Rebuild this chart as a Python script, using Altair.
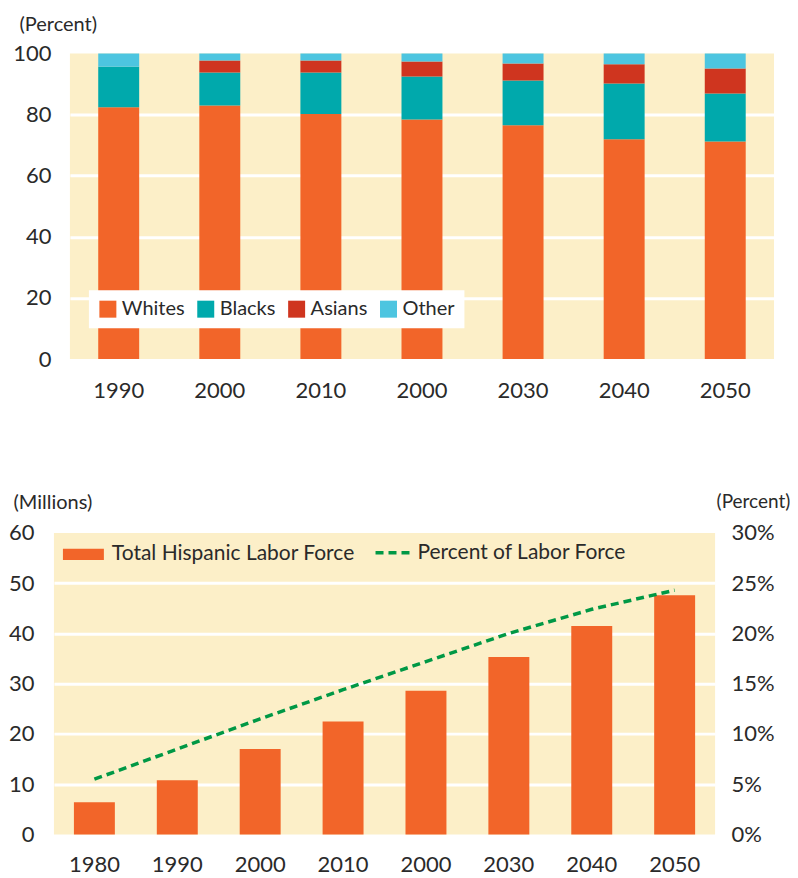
import altair as alt
import pandas as pd

# ---------------- data ----------------
top_years = ["1990", "2000", "2010", "2000", "2030", "2040", "2050"]
groups = ["Whites", "Blacks", "Asians", "Other"]
whites = [82.4, 83.0, 80.2, 78.4, 76.5, 71.9, 71.2]
blacks = [13.3, 10.8, 13.6, 14.1, 14.7, 18.3, 15.7]
asians = [0.0, 3.9, 3.9, 4.9, 5.5, 6.3, 8.2]
other = [4.3, 2.3, 2.3, 2.6, 3.3, 3.5, 4.9]

bot_years = ["1980", "1990", "2000", "2010", "2000", "2030", "2040", "2050"]
hispanic_millions = [6.4, 10.8, 17.0, 22.5, 28.6, 35.3, 41.5, 47.6]
hispanic_percent = [5.5, 8.5, 11.5, 14.4, 17.2, 20.0, 22.4, 24.3]

bar_series = "Total Hispanic Labor Force"
line_series = "Percent of Labor Force"

# ---------------- style ----------------
FONT = "Lato"
TEXT = "#2a2a2a"
BG = "#FCEFC8"
ORANGE = "#F26529"
TEAL = "#00A9AC"
RED = "#CF351F"
SKY = "#4DC5E0"
GREEN = "#009845"

rows = []
for i in range(len(top_years)):
    for k, (g, vals) in enumerate(zip(groups, [whites, blacks, asians, other])):
        rows.append({"idx": i, "group": g, "order": k, "value": vals[i]})
top_df = pd.DataFrame(rows)

bot_df = pd.DataFrame({
    "idx": list(range(len(bot_years))),
    "millions": hispanic_millions,
    "pct": hispanic_percent,
    "s1": [bar_series] * len(bot_years),
    "s2": [line_series] * len(bot_years),
})


def label_expr(labels):
    return "[" + ",".join("'%s'" % l for l in labels) + "][datum.value]"


top = alt.Chart(top_df).mark_bar(size=41).encode(
    x=alt.X(
        "idx:O",
        scale=alt.Scale(paddingInner=0.595, paddingOuter=0.28),
        axis=alt.Axis(labelExpr=label_expr(top_years), labelAngle=0, title=None,
                      domain=False, ticks=False, labelPadding=21, labelFontSize=22),
    ),
    y=alt.Y(
        "value:Q", stack="zero",
        scale=alt.Scale(domain=[0, 100], nice=False),
        axis=alt.Axis(values=[0, 20, 40, 60, 80, 100], title="(Percent)", titleAngle=0,
                      titleX=-51, titleY=-29, titleAlign="left", titleBaseline="middle",
                      labelPadding=19, labelFontSize=22, grid=True, gridColor="white",
                      gridWidth=3,
                      gridOpacity=alt.condition("datum.value == 0 || datum.value == 100",
                                                alt.value(0), alt.value(1)),
                      domain=False, ticks=False),
    ),
    color=alt.Color(
        "group:N",
        scale=alt.Scale(domain=groups, range=[ORANGE, TEAL, RED, SKY]),
        legend=alt.Legend(orient="none", legendX=35, legendY=237, direction="horizontal",
                          columns=4, title=None, fillColor="white", padding=9,
                          symbolType="square", symbolSize=289, symbolStrokeWidth=0,
                          labelFontSize=20, labelOffset=4, columnPadding=11,
                          labelLimit=300),
    ),
    order=alt.Order("order:Q"),
).properties(width=705, height=306, view=alt.ViewBackground(fill=BG, stroke=None))

# invisible, zero-content spacer that lets the top panel sit 16px further right
spacer = alt.Chart(top_df).mark_point(opacity=0).encode(
    y=alt.Y("value:Q", axis=None),
).properties(width=1, height=306, view=alt.ViewBackground(fill=None, stroke=None))

top_row = alt.hconcat(spacer, top, spacing=15, bounds="flush")

xb = alt.X(
    "idx:O",
    scale=alt.Scale(paddingInner=0.506, paddingOuter=0.241),
    axis=alt.Axis(labelExpr=label_expr(bot_years), labelAngle=0, title=None,
                  domain=False, ticks=False, labelPadding=20, labelFontSize=22),
)

bars = alt.Chart(bot_df).mark_bar(size=41).encode(
    x=xb,
    y=alt.Y(
        "millions:Q",
        scale=alt.Scale(domain=[0, 60], nice=False),
        axis=alt.Axis(values=[0, 10, 20, 30, 40, 50, 60], title="(Millions)", titleAngle=0,
                      titleX=-41, titleY=-30, titleAlign="left", titleBaseline="middle",
                      labelPadding=20, labelFontSize=22, grid=True, gridColor="white",
                      gridWidth=3,
                      gridOpacity=alt.condition("datum.value == 0 || datum.value == 60",
                                                alt.value(0), alt.value(1)),
                      domain=False, ticks=False),
    ),
    color=alt.Color(
        "s1:N",
        scale=alt.Scale(domain=[bar_series], range=[ORANGE]),
        legend=alt.Legend(orient="none", legendX=9, legendY=1, title=None, padding=0,
                          symbolType="M-1,-0.27L1,-0.27L1,0.27L-1,0.27Z", symbolSize=1681,
                          symbolStrokeWidth=0, labelFontSize=21, labelOffset=8,
                          labelLimit=400),
    ),
)

line = alt.Chart(bot_df).mark_line(color=GREEN, strokeWidth=3.5).encode(
    x=alt.X("idx:O"),
    y=alt.Y(
        "pct:Q",
        scale=alt.Scale(domain=[0, 30], nice=False),
        axis=alt.Axis(orient="right", values=[0, 5, 10, 15, 20, 25, 30],
                      labelExpr="datum.value + '%'", title="(Percent)", titleAngle=0,
                      titleX=1, titleY=-31, titleAlign="left", titleBaseline="middle",
                      titleFontSize=19,
                      labelPadding=16, labelFontSize=22, grid=False, domain=False,
                      ticks=False),
    ),
    strokeDash=alt.StrokeDash(
        "s2:N",
        scale=alt.Scale(domain=[line_series], range=[[8, 5]]),
        legend=alt.Legend(orient="none", legendX=320, legendY=1, title=None, padding=0,
                          symbolType="stroke", symbolSize=1156, symbolStrokeColor=GREEN,
                          symbolStrokeWidth=3.5, labelFontSize=21, labelOffset=6,
                          labelLimit=400),
    ),
)

bottom = alt.layer(bars, line).resolve_scale(y="independent").properties(
    width=662, height=302, view=alt.ViewBackground(fill=BG, stroke=None)
)

chart = alt.vconcat(top_row, bottom, spacing=92).resolve_scale(
    color="independent", strokeDash="independent", x="independent", y="independent"
).resolve_legend(color="independent", strokeDash="independent").properties(
    padding={"left": 0, "top": 6, "right": 0, "bottom": 0}
).configure(font=FONT).configure_view(stroke=None).configure_axis(
    labelColor=TEXT, titleColor=TEXT, titleFontSize=20, titleFontWeight="normal",
    labelFont=FONT, titleFont=FONT,
).configure_legend(labelColor=TEXT, labelFont=FONT)

chart.save("out.html", embed_options={"renderer": "svg", "actions": False})
